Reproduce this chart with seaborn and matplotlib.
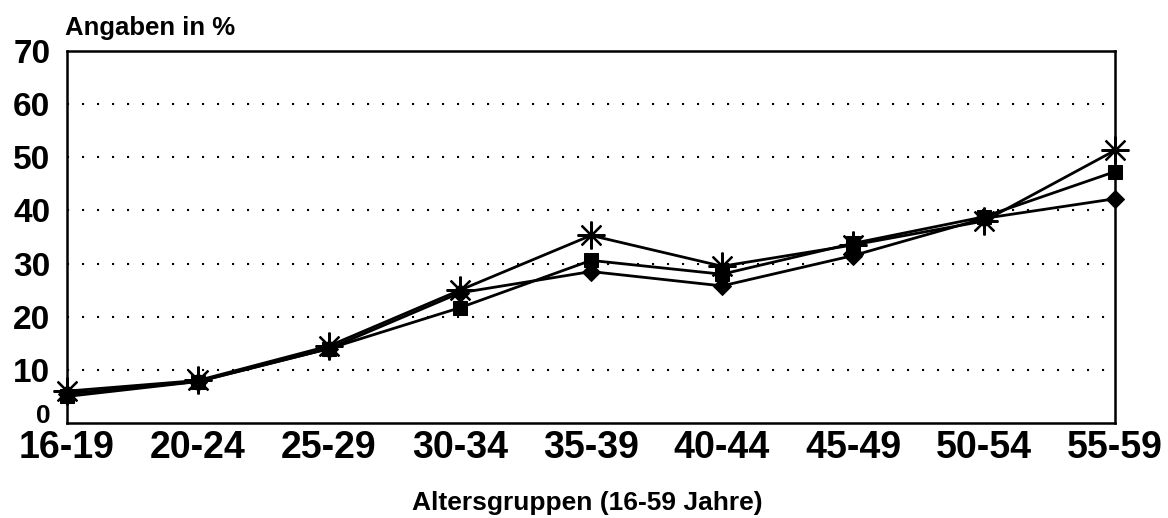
import pandas as pd
import seaborn as sns
import matplotlib.pyplot as plt

# Age groups and the three series (values in %)
altersgruppen = ['16-19', '20-24', '25-29', '30-34', '35-39',
                 '40-44', '45-49', '50-54', '55-59']
stern = [6.0, 8.0, 14.5, 25.0, 35.3, 29.5, 33.5, 38.0, 51.3]
quadrat = [5.0, 7.8, 14.0, 21.7, 30.6, 28.0, 33.8, 38.8, 47.3]
raute = [5.5, 7.8, 14.0, 24.5, 28.5, 25.8, 31.5, 38.5, 42.2]
y_ticks = [0, 10, 20, 30, 40, 50, 60, 70]

df = pd.DataFrame({'Altersgruppe': altersgruppen * 3,
                   'Wert': stern + quadrat + raute,
                   'Serie': ['stern'] * 9 + ['quadrat'] * 9 + ['raute'] * 9})

sns.set_style('white')
plt.rcParams['font.family'] = ['Liberation Sans', 'DejaVu Sans']
plt.rcParams['font.weight'] = 'bold'
plt.rcParams['text.color'] = 'black'
plt.rcParams['xtick.color'] = 'black'
plt.rcParams['ytick.color'] = 'black'

fig = plt.figure(figsize=(11.68, 5.18), dpi=100)
ax = fig.add_axes([0.0574, 0.1834, 0.8972, 0.7181])

# Marker style per series
styles = {
    'stern': dict(marker=(8, 2, 0), markersize=20, markeredgewidth=1.6),
    'quadrat': dict(marker='s', markersize=10),
    'raute': dict(marker='D', markersize=9),
}
for serie, st in styles.items():
    sub = df[df['Serie'] == serie]
    sns.lineplot(data=sub, x='Altersgruppe', y='Wert', ax=ax, color='black',
                 linewidth=2.0, markeredgecolor='black', clip_on=False, **st)

ax.set_xlim(0, len(altersgruppen) - 1)
ax.set_ylim(0, 70)
ax.set_yticks(y_ticks)
ax.set_yticklabels([str(t) for t in y_ticks], fontsize=24, fontweight='bold')
null_label = ax.get_yticklabels()[0]
null_label.set_fontsize(19)
null_label.set_va('baseline')
ax.set_xticks(range(len(altersgruppen)))
ax.set_xticklabels(altersgruppen, fontsize=27, fontweight='bold')
ax.tick_params(axis='y', direction='in', length=7, width=1.5, pad=12)
ax.tick_params(axis='x', direction='in', length=4, width=1.0, pad=5)

for y in y_ticks[1:-1]:
    ax.axhline(y, color='black', linestyle=(0, (1, 6.2)), linewidth=1.5, zorder=0)

for side in ['left', 'right', 'top', 'bottom']:
    ax.spines[side].set_visible(True)
    ax.spines[side].set_color('black')
    ax.spines[side].set_linewidth(1.8)

ax.set_xlabel('')
ax.set_ylabel('')

fig.text(0.056, 1 - 35 / 518, 'Angaben in %', fontsize=18.5, fontweight='bold',
         ha='left', va='baseline')
fig.text(0.503, 1 - 510 / 518, 'Altersgruppen (16-59 Jahre)', fontsize=19,
         fontweight='bold', ha='center', va='baseline')

plt.savefig('out.png', dpi=100)
plt.close()
